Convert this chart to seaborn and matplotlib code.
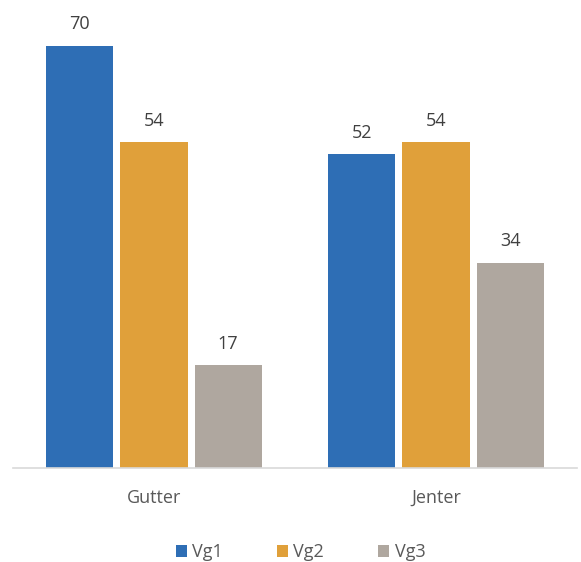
import pandas as pd
import matplotlib
matplotlib.use("Agg")
import matplotlib.pyplot as plt
import seaborn as sns

groups = ["Gutter", "Jenter"]
series = ["Vg1", "Vg2", "Vg3"]
vg1 = [70, 52]
vg2 = [54, 54]
vg3 = [17, 34]
colors = ["#2E6EB5", "#E0A03A", "#AFA79F"]

df = pd.DataFrame({
    "gruppe": groups * 3,
    "trinn": [s for s in series for _ in groups],
    "verdi": vg1 + vg2 + vg3,
})

sns.set_theme(style="white")
plt.rcParams["font.family"] = ["Open Sans", "DejaVu Sans"]

fig = plt.figure(figsize=(5.81, 5.62), dpi=100)
ax = fig.add_axes([13 / 581, 94 / 562, 564 / 581, 468 / 562])

sns.barplot(data=df, x="gruppe", y="verdi", hue="trinn", order=groups,
            hue_order=series, palette=colors, width=0.788, gap=0.095,
            saturation=1, linewidth=0, ax=ax, legend=True)

for c in ax.containers:
    ax.bar_label(c, padding=9, fontsize=13, color="#404040")

ax.set_xlim(-0.5, 1.5)
ax.set_ylim(0, 77.6)
ax.set_xlabel("")
ax.set_ylabel("")
ax.set_yticks([])
for s in ["top", "right", "left"]:
    ax.spines[s].set_visible(False)
ax.spines["bottom"].set_color("#D9D9D9")
ax.spines["bottom"].set_linewidth(1.2)
ax.tick_params(axis="x", length=0, pad=15, labelsize=13, labelcolor="#595959")

ax.legend(loc="center", bbox_to_anchor=(0.51, -0.18), ncol=3, frameon=False,
          fontsize=13, labelcolor="#595959", handlelength=0.6, handleheight=0.6,
          handletextpad=0.3, columnspacing=3.0)

fig.savefig("out.png", dpi=100)
